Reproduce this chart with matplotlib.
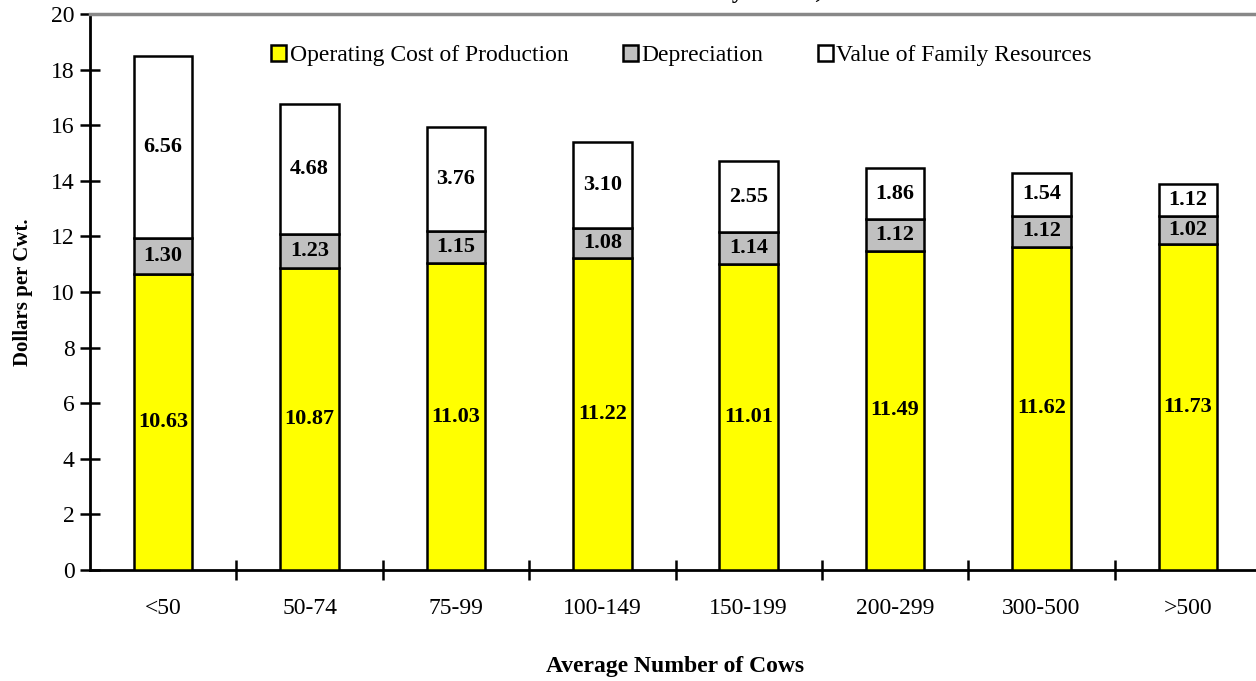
import matplotlib
matplotlib.use("Agg")
import matplotlib.pyplot as plt
import numpy as np

plt.rcParams["font.family"] = ["Liberation Serif", "DejaVu Serif"]

herd_sizes = ["<50", "50-74", "75-99", "100-149", "150-199", "200-299", "300-500", ">500"]
operating = [10.63, 10.87, 11.03, 11.22, 11.01, 11.49, 11.62, 11.73]
depreciation = [1.30, 1.23, 1.15, 1.08, 1.14, 1.12, 1.12, 1.02]
family = [6.56, 4.68, 3.76, 3.10, 2.55, 1.86, 1.54, 1.12]

series = [
    ("Operating Cost of Production", operating, "#ffff00"),
    ("Depreciation", depreciation, "#c0c0c0"),
    ("Value of Family Resources", family, "#ffffff"),
]

fig = plt.figure(figsize=(12.56, 6.81), dpi=100)
ax = fig.add_axes([90 / 1256, 111 / 681, 1171 / 1256, 556 / 681])

x = np.arange(len(herd_sizes))
bottom = np.zeros(len(herd_sizes))
for name, vals, color in series:
    vals = np.array(vals)
    ax.bar(x, vals, width=0.4, bottom=bottom, color=color, edgecolor="black",
           linewidth=1.8, label=name, zorder=3)
    for xi, b, v in zip(x, bottom, vals):
        ax.text(xi, b + v / 2, f"{v:.2f}", ha="center", va="center",
                fontsize=16, fontweight="bold", zorder=4)
    bottom = bottom + vals

ax.set_xlim(-0.5, 7.5)
ax.set_ylim(0, 20)
ax.set_yticks(np.arange(0, 21, 2))
ax.set_xticks(x)
ax.set_xticklabels(herd_sizes)
ax.set_xticks(np.arange(0.5, 7.5, 1), minor=True)
ax.tick_params(axis="x", which="major", length=0, pad=20, labelsize=17)
ax.tick_params(axis="x", which="minor", direction="inout", length=14, width=1.8)
ax.tick_params(axis="y", direction="inout", length=14, width=1.8, labelsize=17, pad=4)

for s in ["left", "bottom"]:
    ax.spines[s].set_linewidth(2)
ax.spines["top"].set_color("#888888")
ax.spines["top"].set_linewidth(2.5)
ax.spines["right"].set_visible(False)

ax.set_ylabel("Dollars per Cwt.", fontsize=15, fontweight="bold", labelpad=13)
ax.set_xlabel("Average Number of Cows", fontsize=17, fontweight="bold", labelpad=27)

ax.legend(loc="upper center", bbox_to_anchor=(0.505, 0.982), ncol=3, frameon=False,
          fontsize=17, handlelength=0.65, handleheight=0.65, handletextpad=0.15,
          columnspacing=2.3)

fig.text(637 / 1256, 1 + 2 / 681, "Cost Per Cwt. for New York Dairy Farms, 2003",
         ha="center", va="baseline", fontsize=17, fontweight="bold")

fig.savefig("out.png", dpi=100)
